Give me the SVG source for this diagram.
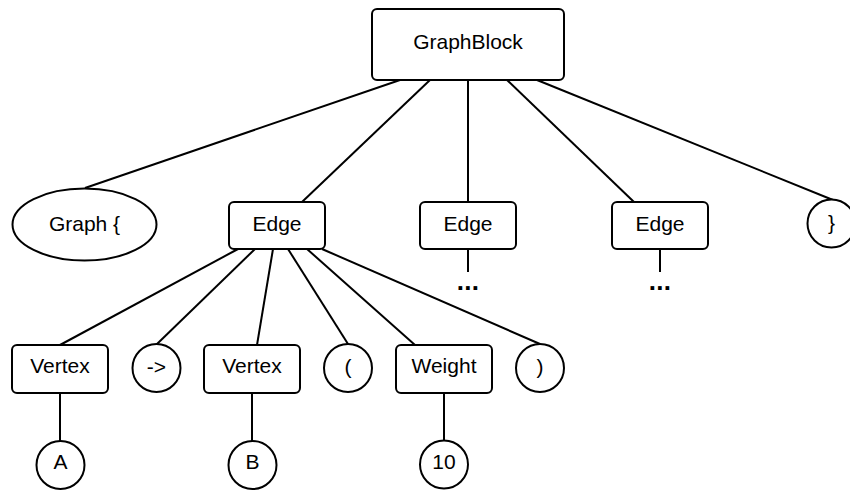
<svg xmlns="http://www.w3.org/2000/svg" width="850" height="491" viewBox="0 0 850 491">
  <style>
    .shape { fill: #ffffff; stroke: #000000; stroke-width: 2; }
    .link { stroke: #000000; stroke-width: 2; fill: none; stroke-linecap: butt; }
    .label { font-family: "Liberation Sans", Arial, sans-serif; font-size: 21px; fill: #000000; text-anchor: middle; }
    .more { font-family: "Liberation Sans", Arial, sans-serif; font-size: 26px; font-weight: bold; fill: #000000; text-anchor: middle; letter-spacing: 0.3px; }
  </style>
  <rect width="850" height="491" fill="#ffffff"/>

  <!-- connectors -->
  <g id="connectors" class="link">
    <line x1="400" y1="80" x2="85" y2="188"/>
    <line x1="430" y1="80" x2="302" y2="202"/>
    <line x1="468" y1="80" x2="468" y2="202"/>
    <line x1="507" y1="80" x2="634" y2="202"/>
    <line x1="537" y1="80" x2="833" y2="200"/>

    <line x1="238" y1="249" x2="60" y2="345"/>
    <line x1="255" y1="249" x2="157" y2="344"/>
    <line x1="273" y1="249" x2="257" y2="345"/>
    <line x1="288" y1="249" x2="348" y2="344"/>
    <line x1="307" y1="249" x2="415" y2="345"/>
    <line x1="322" y1="249" x2="540" y2="344"/>

    <line x1="468" y1="249" x2="468" y2="272"/>
    <line x1="660" y1="249" x2="660" y2="272"/>

    <line x1="60" y1="393" x2="60" y2="441"/>
    <line x1="252" y1="393" x2="252" y2="441"/>
    <line x1="444" y1="393" x2="444" y2="441"/>
  </g>

  <!-- root -->
  <g id="graphblock">
    <rect class="shape" x="372" y="9" width="192" height="71" rx="5"/>
    <text class="label" x="468" y="48.5">GraphBlock</text>
  </g>

  <!-- second level -->
  <g id="graph-open">
    <ellipse class="shape" cx="84.5" cy="224.5" rx="72" ry="36"/>
    <text class="label" x="84.5" y="230.5">Graph {</text>
  </g>
  <g id="edge1">
    <rect class="shape" x="229" y="202" width="96" height="47" rx="5"/>
    <text class="label" x="277" y="230.5">Edge</text>
  </g>
  <g id="edge2">
    <rect class="shape" x="420" y="202" width="96" height="47" rx="5"/>
    <text class="label" x="468" y="230.5">Edge</text>
    <text class="more" x="468" y="289.5">...</text>
  </g>
  <g id="edge3">
    <rect class="shape" x="612" y="202" width="96" height="47" rx="5"/>
    <text class="label" x="660" y="230.5">Edge</text>
    <text class="more" x="660" y="289.5">...</text>
  </g>
  <g id="graph-close">
    <circle class="shape" cx="831.5" cy="223.5" r="24"/>
    <text class="label" x="831.5" y="229.5">}</text>
  </g>

  <!-- edge parts -->
  <g id="vertex1">
    <rect class="shape" x="12" y="345" width="96" height="48" rx="5"/>
    <text class="label" x="60" y="372.5">Vertex</text>
  </g>
  <g id="arrow">
    <circle class="shape" cx="156.5" cy="368" r="24"/>
    <text class="label" x="156.5" y="374">-&gt;</text>
  </g>
  <g id="vertex2">
    <rect class="shape" x="204" y="345" width="96" height="48" rx="5"/>
    <text class="label" x="252" y="372.5">Vertex</text>
  </g>
  <g id="paren-open">
    <circle class="shape" cx="348" cy="368" r="24"/>
    <text class="label" x="348" y="374">(</text>
  </g>
  <g id="weight">
    <rect class="shape" x="396" y="345" width="96" height="48" rx="5"/>
    <text class="label" x="444" y="372.5">Weight</text>
  </g>
  <g id="paren-close">
    <circle class="shape" cx="540" cy="368" r="24"/>
    <text class="label" x="540" y="374">)</text>
  </g>

  <!-- leaves -->
  <g id="leaf-a">
    <circle class="shape" cx="60.5" cy="465" r="24"/>
    <text class="label" x="60.5" y="469">A</text>
  </g>
  <g id="leaf-b">
    <circle class="shape" cx="252.5" cy="465" r="24"/>
    <text class="label" x="252.5" y="469">B</text>
  </g>
  <g id="leaf-10">
    <circle class="shape" cx="444" cy="464.5" r="24"/>
    <text class="label" x="444" y="469">10</text>
  </g>
</svg>
